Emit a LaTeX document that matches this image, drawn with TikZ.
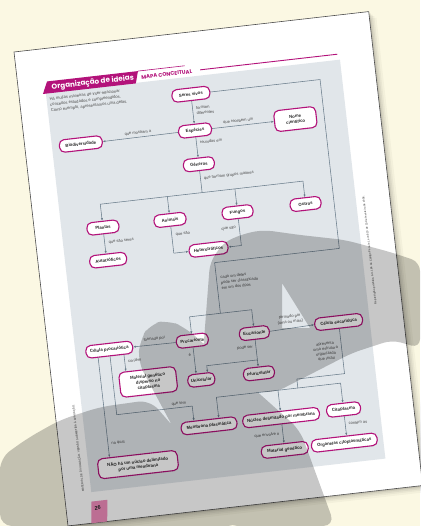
\documentclass[tikz,border=0pt]{standalone}
\usepackage{fontspec}
\setmainfont{Liberation Sans}
\newfontfamily\headfont{Poppins}
\usetikzlibrary{arrows.meta,calc,shadows}
\definecolor{cream}{HTML}{FBF8E3}
\definecolor{panel}{HTML}{E1E6EA}
\definecolor{mag}{HTML}{B3127A}
\definecolor{wirec}{HTML}{6A7D8B}
\definecolor{labelgray}{HTML}{4A4A4A}
\definecolor{ink}{HTML}{262626}
\definecolor{tabpink}{HTML}{F18DBD}
\tikzset{
  concept/.style={draw=mag, line width=1.1pt, fill=white, rounded corners=5pt,
    minimum height=12.5pt, inner sep=1pt, align=center, text=ink,
    font=\fontsize{4.3}{5.5}\selectfont\bfseries,
    drop shadow={opacity=0.18, shadow xshift=0.5pt, shadow yshift=-0.7pt}},
  lbl/.style={font=\fontsize{4}{5.4}\selectfont, text=labelgray, inner sep=0.4pt, align=left},
  wire/.style={draw=wirec, line width=0.55pt},
  arr/.style={wire, -{Latex[length=2.6pt,width=2.2pt]}},
  stamp/.style={fill=black, opacity=0.22, rounded corners=9pt},
}
\begin{document}
\begin{tikzpicture}[x=1pt,y=-1pt]
\useasboundingbox (0,0) rectangle (420,526);
\fill[cream] (0,0) rectangle (420,526);
\begin{scope}[shift={(14,52)}, rotate=6.5, transform shape]
  % soft shadow under the sheet
  \foreach \d/\o in {7/0.03,5/0.04,3.5/0.05,2/0.06,1/0.08}
    \fill[black,opacity=\o] (\d,\d) rectangle (357+\d,477+\d);
  % the sheet
  \fill[white] (0,0) rectangle (357,477);
  \draw[black!70, line width=0.6pt] (0,0) rectangle (357,477);
  % grey panel holding the map
  \fill[panel] (27,44.5) rectangle (323,446);
  % heading
  \fill[mag] (24,45) -- (29.5,33) -- (121,33) -- (117.5,45) -- cycle;
  \node[text=white, font=\headfont\fontsize{7.2}{8}\selectfont\bfseries, anchor=west] (title) at (30,39.3) {Organização de ideias};
  \draw[mag, line width=0.6pt] (121,33) -- (168,33);
  \draw[mag, line width=0.9pt] (183,38.8) -- (321,38.8);
  \node[text=mag, font=\headfont\fontsize{5.3}{6}\selectfont\bfseries, anchor=west, inner sep=0pt] (sub) at (123.5,39.5) {MAPA CONCEITUAL};
  \node[lbl, anchor=north west, font=\fontsize{4.1}{5.7}\selectfont, text=black!70] (intro) at (29.5,48.5)
    {Há muitas maneiras de inter-relacionar\\conceitos estudados e compreendidos.\\Como exemplo, apresentamos uma delas.};

  % concepts
  \node[concept, minimum width=38pt] (sv) at (171,62) {Seres vivos};
  \node[concept, minimum width=33pt] (esp) at (171,98.5) {Espécies};
  \node[concept, minimum width=42pt, minimum height=21pt] (nome) at (272,98.5) {Nome\\científico};
  \node[concept, minimum width=43pt] (bio) at (56,99) {Biodiversidade};
  \node[concept, minimum width=31pt] (gen) at (171,132.5) {Gêneros};
  \node[concept, minimum width=32pt] (pla) at (68.5,184.5) {Plantas};
  \node[concept, minimum width=32pt] (ani) at (136,184.5) {Animais};
  \node[concept, minimum width=31pt] (fun) at (204,184.5) {Fungos};
  \node[concept, minimum width=31pt] (out) at (272.5,184) {Outros};
  \node[concept, minimum width=37pt] (aut) at (70,217.5) {Autotróficos};
  \node[concept, minimum width=39pt] (het) at (171,218) {Heterotróficos};
  \node[concept, minimum width=32pt] (pro) at (144.5,307) {Procarionte};
  \node[concept, minimum width=30pt] (euc) at (207,306.5) {Eucarionte};
  \node[concept, minimum width=48pt] (ceu) at (292,305) {Célula eucariótica};
  \node[concept, minimum width=47pt] (cpr) at (61,306.5) {Célula procariótica};
  \node[concept, minimum width=31pt] (plu) at (207,347) {Pluricelular};
  \node[concept, minimum width=27pt] (uni) at (149,347) {Unicelular};
  \node[concept, minimum width=57pt, minimum height=25pt] (mgd) at (96,343) {Material genético\\disperso no\\citoplasma};
  \node[concept, minimum width=56pt] (mem) at (151.5,393.5) {Membrana plasmática};
  \node[concept, minimum width=77pt] (nuc) at (224,393.5) {Núcleo delimitado por membrana};
  \node[concept, minimum width=34pt] (cit) at (287,392.5) {Citoplasma};
  \node[concept, minimum width=47pt] (mg) at (224,426) {Material genético};
  \node[concept, minimum width=66pt] (org) at (284,425.5) {Organelas citoplasmáticas};
  \node[concept, minimum width=80pt, minimum height=20pt] (nao) at (76.5,424) {NÃO há um núcleo delimitado\\por uma membrana};

  % links
  \draw[arr] (sv.south) -- (esp.north);
  \node[lbl, anchor=west] at (174,79) {formam\\diferentes};
  \draw[arr] (esp.east) -- (nome.west);
  \node[lbl] at (215,94) {que recebem um};
  \draw[arr] (esp.west) -- (bio.east);
  \node[lbl] at (114,94.5) {que mostram a};
  \draw[arr] (esp.south) -- (gen.north);
  \node[lbl, anchor=west] at (174,111) {reunidas em};

  \coordinate (gbus) at (171,161);
  \draw[wire] (gen.south) -- (gbus);
  \draw[arr] (gbus) -| (pla.north);
  \draw[arr] (gbus) -| (out.north);
  \draw[arr] (gbus -| ani.north) -- (ani.north);
  \draw[arr] (gbus -| fun.north) -- (fun.north);
  \node[lbl, anchor=west] at (174,147) {que formam grupos maiores};

  \draw[arr] (pla.south) -- (pla.south |- aut.north);
  \node[lbl, anchor=west] at (72,200) {que são seres};
  \draw[arr] (ani.south) |- (het.west);
  \node[lbl, anchor=west] at (139.5,200) {que são};
  \draw[arr] (fun.south) |- (het.east);
  \node[lbl, anchor=east] at (201,199.5) {que são};

  \coordinate (loopR) at (301,232);
  \coordinate (loopL) at (175.5,232);
  \coordinate (pbus) at (175.5,283);
  \draw[wire] (sv.east) -| (loopR) -- (loopL) -- (pbus);
  \draw[arr] (pbus) -| (pro.north);
  \draw[arr] (pbus) -| (euc.north);
  \node[lbl, anchor=west] at (179,253) {cada um deles\\pode ser classificado\\em um dos tipos};

  \draw[arr] (pro.west) -- (cpr.east);
  \node[lbl] at (107,301) {formado por};
  \draw[arr] (pro.south) -- (pro.south |- uni.north);
  \node[lbl, anchor=east] at (142,321) {é};
  \draw[arr] (euc.east) -- (ceu.west);
  \node[lbl, align=center] at (244,297) {formado por\\(uma ou mais)};
  \coordinate (ejunc) at (207,333.5);
  \draw[arr] (euc.south) -- (plu.north);
  \draw[arr] (ejunc) -| ($(uni.north)+(7,0)$);
  \node[lbl, anchor=east] at (204.5,320) {pode ser};

  \coordinate (cprA) at ($(cpr.south)+(-12,0)$);
  \coordinate (cprC) at ($(cpr.south)+(14,0)$);
  \draw[arr] (cprC) -- (cprC |- mgd.north);
  \node[lbl, anchor=west] at (78,320) {contém};
  \draw[arr] (cprA) -- (cprA |- nao.north);
  \node[lbl, anchor=west] at (52,400) {na qual};
  \coordinate (qtem) at (137,372);
  \draw[arr] (cpr.south) |- (qtem) -- (qtem |- mem.north);
  \node[lbl] at (124,368) {que tem};

  \coordinate (ceuK) at (244,357);
  \coordinate (ebus) at (244,366);
  \draw[wire] (ceu.south) |- (ceuK) -- (ebus);
  \draw[arr] (ebus) -| ($(mem.north)+(10.5,0)$);
  \draw[arr] (ebus) -| (cit.north);
  \draw[arr] (ebus -| nuc.north) -- (nuc.north);
  \node[lbl, align=center, font=\fontsize{4}{5}\selectfont] at (276,333) {apresenta\\uma estrutura\\organizada\\que inclui};
  \draw[arr] (nuc.south) -- (mg.north);
  \node[lbl, anchor=east] at (221,409.5) {que envolve o};
  \draw[arr] (cit.south) -- (cit.south |- org.north);
  \node[lbl, anchor=west] at (290,407) {contém as};

  % margin notes and folio
  \node[rotate=90, font=\fontsize{2.8}{3}\selectfont, text=black!75] (legal) at (331,237)
    {Reprodução proibida. Art. 184 do Código Penal e Lei 9.610 de 19 de fevereiro de 1998.};
  \node[rotate=90, font=\fontsize{2.8}{3}\selectfont, text=black!75] (promo) at (19,401)
    {MATERIAL DE DIVULGAÇÃO. VERSÃO SUBMETIDA À AVALIAÇÃO.};
  \fill[tabpink] (26,455.5) -- (42,455.5) -- (39.5,477) -- (23.5,477) -- cycle;
  \node[font=\fontsize{5.5}{6}\selectfont\bfseries, text=ink] (folio) at (31.5,462.5) {26};
\end{scope}

% translucent grey stamp laid over the whole photo (one path, union of strokes)
\fill[stamp]
  % upper block with its triangular counter
  (200,392) -- (210,262) -- (224,242) -- (246,233) -- (264,230) -- (300,235) -- (345,240)
  -- (390,252) -- (420,262) -- (420,348) -- (392,340) -- (352,353) -- (315,372) -- (276,392) -- cycle
  [sharp corners] (282,283) -- (282,328) -- (310,328) -- cycle
  % descending stroke with a rounded top
  [rounded corners=12pt] (140,340) -- (150,324) -- (168,320) -- (186,328) -- (300,430) -- (335,526)
  -- (226,526) -- (138,362) -- cycle
  % broad lower-left sweep
  (0,458) -- (28,438) -- (60,420) -- (100,407) -- (150,400) -- (185,440) -- (240,526) -- (0,526) -- cycle;
\end{tikzpicture}
\end{document}
